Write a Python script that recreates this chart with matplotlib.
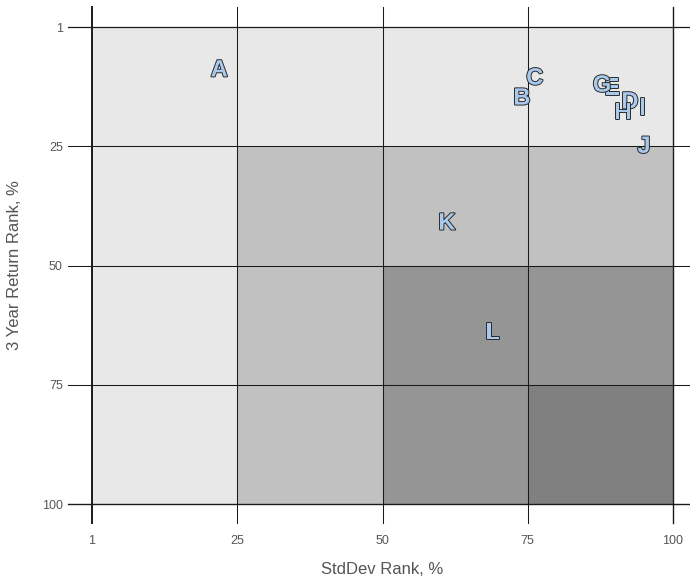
import numpy as np
import matplotlib.pyplot as plt
import matplotlib.patheffects as pe

plt.rcParams['font.family'] = ['Liberation Sans', 'DejaVu Sans']

# fund positions (rank, %)
labels = ['A', 'B', 'C', 'D', 'E', 'G', 'H', 'I', 'J', 'K', 'L']
stddev_rank = [21.9, 74.0, 76.2, 92.6, 89.5, 87.8, 91.4, 94.8, 95.0, 61.1, 69.0]
return_rank = [9.0, 14.9, 10.7, 15.7, 12.8, 12.2, 18.0, 17.0, 25.0, 41.1, 64.1]

quartiles = [0, 25, 50, 75, 100]
tick_labels = ['1', '25', '50', '75', '100']
# shade level of each quartile cell (row = return quartile, col = stddev quartile)
cell_levels = [[0, 0, 0, 0],
               [0, 1, 1, 1],
               [0, 1, 2, 2],
               [0, 1, 2, 3]]
shades = ['#e8e8e8', '#c0c1c0', '#959595', '#7f807f']

fig = plt.figure(figsize=(6.9, 5.8), dpi=100)
ax = fig.add_axes([92/690, 76/580, 581/690, 477/580])
ax.set_xlim(0, 100)
ax.set_ylim(100, 0)
for s in ax.spines.values():
    s.set_visible(False)

for r in range(4):
    for c in range(4):
        x0, x1 = quartiles[c], quartiles[c+1]
        y0, y1 = quartiles[r], quartiles[r+1]
        ax.fill_between([x0, x1], y0, y1, color=shades[cell_levels[r][c]],
                        linewidth=0, zorder=1)

# grid lines extending past the plot like ticks
for i, q in enumerate(quartiles):
    lw = 1.4 if i == 0 else (1.0 if i == 4 else 0.75)
    ax.plot([q, q], [-4.2, 104], color='#1a1a1a', lw=lw, clip_on=False, zorder=2)
    ax.plot([-4.1, 103], [q, q], color='#1a1a1a', lw=0.9 if i == 0 else lw,
            clip_on=False, zorder=2)

for lab, x, y in zip(labels, stddev_rank, return_rank):
    ax.text(x, y, lab, ha='center', va='center', fontsize=17, fontweight='bold',
            color='#a9c9ec', zorder=3,
            path_effects=[pe.withStroke(linewidth=1.4, foreground='#2a2a2a')])

ax.set_xticks(quartiles)
ax.set_xticklabels(tick_labels)
ax.set_yticks(quartiles)
ax.set_yticklabels(tick_labels)
ax.tick_params(length=0, labelsize=9, labelcolor='#555555')
ax.tick_params(axis='x', pad=22)
ax.tick_params(axis='y', pad=21)

ax.set_xlabel('StdDev Rank, %', fontsize=12, color='#555555', labelpad=11)
ax.set_ylabel('3 Year Return Rank, %', fontsize=12, color='#555555', labelpad=14)

fig.savefig('out.png', dpi=100)
